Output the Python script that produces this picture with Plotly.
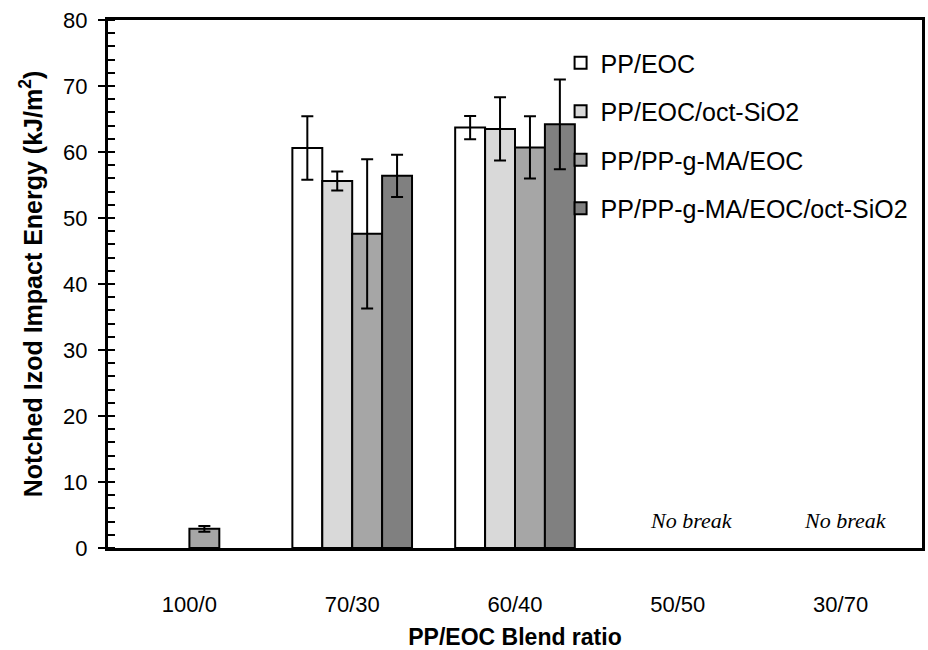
import plotly.graph_objects as go

categories = ["100/0", "70/30", "60/40", "50/50", "30/70"]
series_names = ["PP/EOC", "PP/EOC/oct-SiO2", "PP/PP-g-MA/EOC", "PP/PP-g-MA/EOC/oct-SiO2"]
pp_eoc = [None, 60.6, 63.7, None, None]
pp_eoc_err = [None, 4.8, 1.75, None, None]
pp_eoc_sio2 = [None, 55.6, 63.5, None, None]
pp_eoc_sio2_err = [None, 1.45, 4.8, None, None]
pp_ma_eoc = [2.9, 47.6, 60.7, None, None]
pp_ma_eoc_err = [0.45, 11.3, 4.7, None, None]
pp_ma_eoc_sio2 = [None, 56.4, 64.2, None, None]
pp_ma_eoc_sio2_err = [None, 3.2, 6.8, None, None]
no_break_cats = ["50/50", "30/70"]
no_break_y = [4.2, 4.2]
no_break_text = "No break"

values = [pp_eoc, pp_eoc_sio2, pp_ma_eoc, pp_ma_eoc_sio2]
errors = [pp_eoc_err, pp_eoc_sio2_err, pp_ma_eoc_err, pp_ma_eoc_sio2_err]
colors = ["#ffffff", "#d9d9d9", "#a6a6a6", "#808080"]

font_main = "Liberation Sans, Arial, sans-serif"

fig = go.Figure()
for i, (name, v, e, c) in enumerate(zip(series_names, values, errors, colors)):
    fig.add_trace(go.Bar(
        x=categories, y=v, name=name, legendgroup=f"g{i}",
        marker=dict(color=c, line=dict(color="black", width=2)),
        error_y=dict(type="data", array=e, visible=True, color="black",
                     thickness=2, width=6),
    ))

for cat, yv, xs in zip(no_break_cats, no_break_y, [14, 5]):
    fig.add_annotation(x=cat, y=yv, text=f"<i>{no_break_text}</i>", showarrow=False,
                       xshift=xs,
                       font=dict(family="Liberation Serif, Times New Roman, serif",
                                 size=22, color="black"),
                       xanchor="center", yanchor="middle")

fig.update_layout(
    width=928, height=650,
    margin=dict(l=108, r=3, t=20, b=95),
    paper_bgcolor="white", plot_bgcolor="white",
    barmode="group", bargap=0.265, bargroupgap=0,
    font=dict(family=font_main, size=22, color="black"),
    legend=dict(x=0.556, y=0.962, xanchor="left", yanchor="top",
                bgcolor="rgba(0,0,0,0)", font=dict(size=25),
                tracegroupgap=13, itemwidth=30),
    showlegend=True,
)
fig.update_xaxes(
    showline=True, linecolor="black", linewidth=3, mirror=True,
    ticks="", ticklabelstandoff=35, tickfont=dict(size=22),
    title=dict(text="<b>PP/EOC Blend ratio</b>", standoff=13, font=dict(size=23)),
    showgrid=False,
)
fig.update_yaxes(
    range=[0, 80], dtick=10, showline=True, linecolor="black", linewidth=3,
    mirror=True, ticks="outside", ticklen=7, tickwidth=2, tickcolor="black",
    ticklabelstandoff=6, tickfont=dict(size=22),
    minor=dict(dtick=2, ticks="inside", ticklen=7, tickwidth=1.5, tickcolor="black"),
    title=dict(text="<b>Notched Izod Impact Energy (kJ/m<sup>2</sup>)</b>", standoff=14,
               font=dict(size=25)),
    showgrid=False, zeroline=False,
)

fig.write_html("out.html")
